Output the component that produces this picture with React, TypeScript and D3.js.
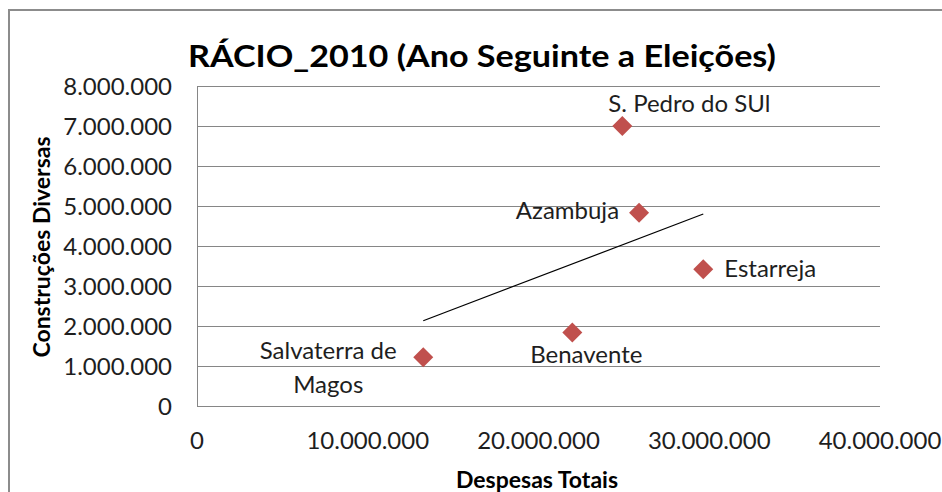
import React from "react";
import * as d3 from "d3";

const municipalities = ["S. Pedro do SUl", "Azambuja", "Estarreja", "Benavente", "Salvaterra de Magos"];
const despesasTotais = [24910000, 25890000, 29650000, 21980000, 13250000];
const construcoesDiversas = [7000000, 4830000, 3420000, 1840000, 1220000];
const trendX = [13250000, 29650000];
const trendY = [2130000, 4800000];
const xTicks = [0, 10000000, 20000000, 30000000, 40000000];
const yTicks = [0, 1000000, 2000000, 3000000, 4000000, 5000000, 6000000, 7000000, 8000000];

const W = 942;
const H = 492;
const plot = { left: 197, right: 880, top: 86, bottom: 406 };

// label placement (style): [dx, dy, anchor]
const labelPlacement: Record<string, { dx: number; dy: number; anchor: string }> = {
  "S. Pedro do SUl": { dx: -14, dy: -14, anchor: "start" },
  Azambuja: { dx: -20, dy: 6, anchor: "end" },
  Estarreja: { dx: 21, dy: 8, anchor: "start" },
  Benavente: { dx: 14, dy: 31, anchor: "middle" },
  "Salvaterra de Magos": { dx: -95, dy: 2, anchor: "middle" },
};

const fmt = (v: number) => {
  if (v === 0) return "0";
  return d3.format(",")(v).replace(/,/g, ".");
};

export default function App() {
  const x = d3.scaleLinear().domain([0, 40000000]).range([plot.left, plot.right]);
  const y = d3.scaleLinear().domain([0, 8000000]).range([plot.bottom, plot.top]);
  const diamond = d3.symbol().type(d3.symbolSquare).size(200)() as string;
  const trendLine = d3
    .line<number>()
    .x((_, i) => x(trendX[i]))
    .y((_, i) => y(trendY[i]))(trendX) as string;

  const font = "Lato, 'Open Sans', sans-serif";
  const textColor = "#1e1e1e";
  const gridColor = "#868686";

  return (
    <svg
      width={W}
      height={H}
      style={{ position: "absolute", left: 0, top: 0, background: "#fff" }}
      fontFamily={font}
    >
      <rect x={0} y={0} width={W} height={H} fill="#fff" />
      <rect x={9} y={10} width={1200} height={1200} fill="none" stroke="#8c8c8c" strokeWidth={2} />

      <text
        x={482}
        y={67}
        textAnchor="middle"
        fontSize={31}
        fontWeight="bold"
        fill="#000"
        textLength={588}
        lengthAdjust="spacingAndGlyphs"
      >
        RÁCIO_2010 (Ano Seguinte a Eleições)
      </text>

      {/* gridlines */}
      {yTicks.map((t) => (
        <line
          key={"g" + t}
          x1={plot.left}
          x2={plot.right}
          y1={y(t)}
          y2={y(t)}
          stroke={gridColor}
          strokeWidth={1}
          shapeRendering="crispEdges"
        />
      ))}
      <line
        x1={plot.left}
        x2={plot.left}
        y1={plot.top}
        y2={plot.bottom}
        stroke={gridColor}
        strokeWidth={1}
        shapeRendering="crispEdges"
      />

      {/* y tick labels */}
      {yTicks.map((t) => (
        <text
          key={"yl" + t}
          x={172}
          y={y(t)}
          dy="0.36em"
          textAnchor="end"
          fontSize={24}
          fill={textColor}
        >
          {fmt(t)}
        </text>
      ))}

      {/* x tick labels */}
      {xTicks.map((t) => (
        <text key={"xl" + t} x={x(t)} y={449} textAnchor="middle" fontSize={24} fill={textColor}>
          {fmt(t)}
        </text>
      ))}

      {/* axis titles */}
      <text
        transform={`translate(50, 247) rotate(-90)`}
        textAnchor="middle"
        fontSize={23}
        fontWeight="bold"
        fill="#000"
      >
        Construções Diversas
      </text>
      <text x={537} y={488} textAnchor="middle" fontSize={23} fontWeight="bold" fill="#000">
        Despesas Totais
      </text>

      {/* trendline */}
      <path d={trendLine} fill="none" stroke="#000" strokeWidth={1.2} />

      {/* points */}
      {municipalities.map((m, i) => (
        <path
          key={"p" + m}
          d={diamond}
          transform={`translate(${x(despesasTotais[i])}, ${y(construcoesDiversas[i])}) rotate(45)`}
          fill="#C0504D"
        />
      ))}

      {/* data labels */}
      {municipalities.map((m, i) => {
        const p = labelPlacement[m];
        const px = x(despesasTotais[i]) + p.dx;
        const py = y(construcoesDiversas[i]) + p.dy;
        if (m === "Salvaterra de Magos") {
          return (
            <text key={"l" + m} x={px} y={py} textAnchor="middle" fontSize={24} fill={textColor}>
              <tspan x={px}>Salvaterra de</tspan>
              <tspan x={px} dy={34}>
                Magos
              </tspan>
            </text>
          );
        }
        return (
          <text key={"l" + m} x={px} y={py} textAnchor={p.anchor as any} fontSize={24} fill={textColor}>
            {m}
          </text>
        );
      })}
    </svg>
  );
}
